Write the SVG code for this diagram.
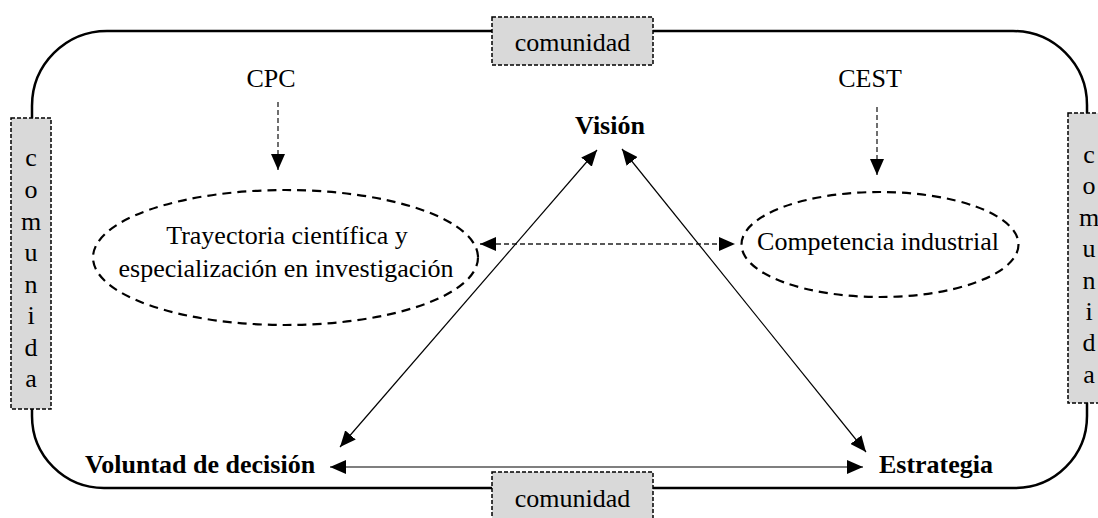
<svg xmlns="http://www.w3.org/2000/svg" width="1098" height="518" viewBox="0 0 1098 518">
<style>
text{font-size:26px;fill:#000}
.b{font-weight:bold}
.box{fill:#d9d9d9;stroke:#000;stroke-width:1.5;stroke-dasharray:4 2}
.ell{fill:none;stroke:#000;stroke-width:2.2;stroke-dasharray:9 6}
.sol{stroke:#000;stroke-width:1.2;fill:none}
.dsh{stroke:#222;stroke-width:1.3;fill:none;stroke-dasharray:5 3}
.frame{fill:none;stroke:#000;stroke-width:2.5}
</style>
<defs>
<marker id="ah" viewBox="0 0 16 14" refX="16" refY="7" markerWidth="16" markerHeight="14" markerUnits="userSpaceOnUse" orient="auto-start-reverse">
<path d="M0,0 L16,7 L0,14 z" fill="#000"/>
</marker>
</defs>
<g font-family="'Liberation Serif', 'Times New Roman', 'DejaVu Serif', serif">
<g id="frame">
<path class="frame" d="M32,118 L32,106 A75,75 0 0 1 107,31 L492,31 M653,31 L1013,31 A74,74 0 0 1 1087,105 L1087,113 M1087,403 L1087,416 A72,72 0 0 1 1015,488 L653,488 M492,488 L104,488 A72,72 0 0 1 32,416 L32,409"/>
</g>
<g id="comunidad-top">
<rect class="box" x="492" y="17" width="161" height="48"/>
<text x="572.5" y="51" text-anchor="middle">comunidad</text>
</g>
<g id="comunidad-bottom">
<rect class="box" x="492" y="472" width="161" height="50"/>
<text x="572.5" y="507" text-anchor="middle">comunidad</text>
</g>
<g id="comunidad-left">
<rect class="box" x="11" y="118" width="40" height="291"/>
<text text-anchor="middle"><tspan x="31" y="166">c</tspan><tspan x="31" y="198">o</tspan><tspan x="31" y="230">m</tspan><tspan x="31" y="261">u</tspan><tspan x="31" y="293">n</tspan><tspan x="31" y="324">i</tspan><tspan x="31" y="356">d</tspan><tspan x="31" y="387">a</tspan></text>
</g>
<g id="comunidad-right">
<rect class="box" x="1068" y="113" width="42" height="290"/>
<text text-anchor="middle"><tspan x="1089" y="163">c</tspan><tspan x="1089" y="194">o</tspan><tspan x="1089" y="226">m</tspan><tspan x="1089" y="257">u</tspan><tspan x="1089" y="289">n</tspan><tspan x="1089" y="320">i</tspan><tspan x="1089" y="351">d</tspan><tspan x="1089" y="383">a</tspan></text>
</g>
<g id="cpc"><text x="271" y="87" text-anchor="middle">CPC</text></g>
<g id="cest"><text x="870" y="87" text-anchor="middle">CEST</text></g>
<g id="trayectoria">
<ellipse class="ell" cx="285.5" cy="257.5" rx="192.5" ry="67.5"/>
<text x="287" y="244" text-anchor="middle">Trayectoria científica y</text>
<text x="286" y="277" text-anchor="middle">especialización en investigación</text>
</g>
<g id="competencia">
<ellipse class="ell" cx="880" cy="244.5" rx="138.5" ry="52.5"/>
<text x="878" y="250" text-anchor="middle">Competencia industrial</text>
</g>
<g id="vision"><text class="b" x="610" y="134" text-anchor="middle">Visión</text></g>
<g id="voluntad"><text class="b" x="200" y="473" text-anchor="middle">Voluntad de decisión</text></g>
<g id="estrategia"><text class="b" x="936" y="473" text-anchor="middle">Estrategia</text></g>
<g id="connectors">
<line class="dsh" x1="278" y1="102" x2="278" y2="170" marker-end="url(#ah)"/>
<line class="dsh" x1="877" y1="107" x2="877" y2="175" marker-end="url(#ah)"/>
<line class="dsh" x1="480" y1="244" x2="735" y2="244" marker-start="url(#ah)" marker-end="url(#ah)"/>
<line class="sol" x1="340" y1="447" x2="597" y2="150" marker-start="url(#ah)" marker-end="url(#ah)"/>
<line class="sol" x1="622" y1="149" x2="866" y2="452" marker-start="url(#ah)" marker-end="url(#ah)"/>
<line class="sol" x1="330" y1="467" x2="863" y2="467" marker-start="url(#ah)" marker-end="url(#ah)"/>
</g>
</g>
</svg>
